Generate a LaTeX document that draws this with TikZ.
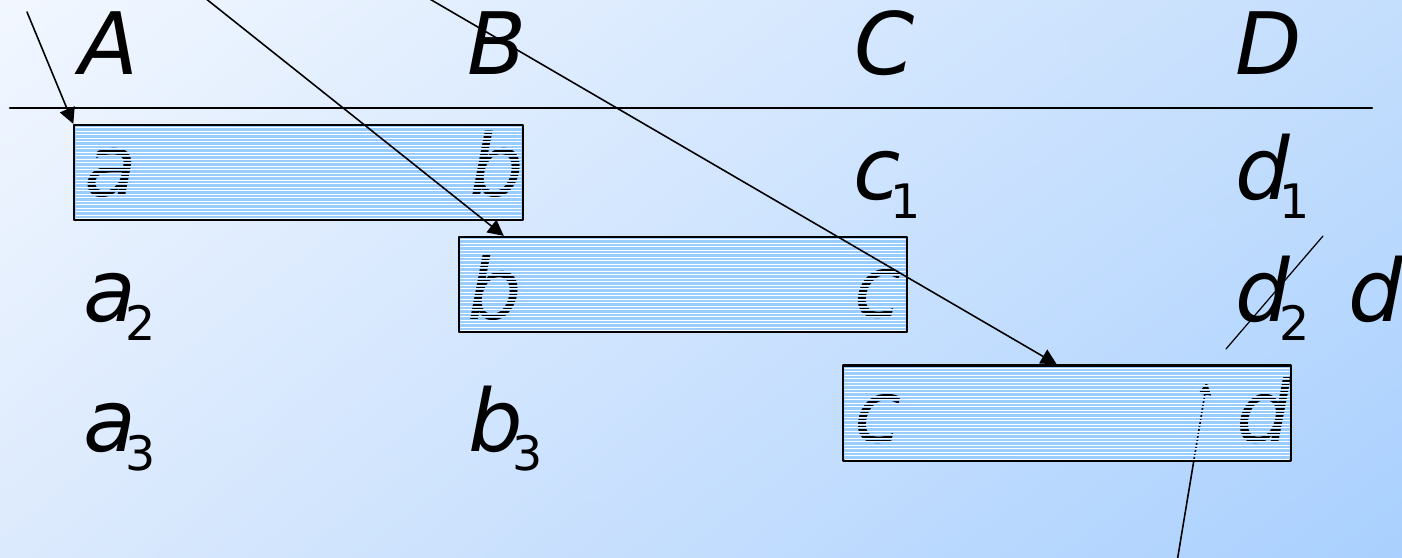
\documentclass[tikz,border=0pt]{standalone}
\usepackage{fontspec}
\setmainfont{DejaVu Sans}
\usetikzlibrary{arrows.meta, calc, shadings}
\definecolor{fondoA}{HTML}{F2F7FF}
\definecolor{fondoB}{HTML}{C4DEFD}
\definecolor{fondoC}{HTML}{DCEAFD}
\definecolor{fondoD}{HTML}{A9D0FE}
\definecolor{azulcaja}{HTML}{99CCFF}
\newcommand\subi[2]{#1\kern-3pt\raisebox{-5.2pt}{\fontsize{13.5pt}{15pt}\selectfont\upshape #2}}

\begin{document}
\begin{tikzpicture}[x=0.01cm, y=-0.01cm, line cap=round, line join=round,
    letra/.style={font=\fontsize{24.5pt}{28pt}\selectfont\itshape, inner sep=0pt, anchor=base west},
    tramo/.style={draw=black, line width=0.6pt, fill=azulcaja, minimum width=4.48cm, minimum height=0.95cm, inner sep=0pt},
    flecha/.style={line width=0.45pt, -{Triangle[length=4.5pt, width=4.5pt]}}]
      % Fondo
      \shade[upper left=fondoA, upper right=fondoB, lower left=fondoC, lower right=fondoD] (0,0) rectangle (1402,558);
      \useasboundingbox (0,0) rectangle (1402,558);

      % Encabezados
      \node[letra] (A) at (79,75) {A};
      \node[letra] (B) at (467,75) {B};
      \node[letra] (C) at (854,75) {C};
      \node[letra] (D) at (1235,75) {D};
      \draw[line width=0.6pt] (10,108) -- (1372,108);

      % Tramos
      \node[tramo] (ab) at (298.5,172.5) {};
      \node[tramo] (bc) at (683,284.5) {};
      \node[tramo] (cd) at (1067,413) {};

      \node[letra] (ta) at (84,197) {a};
      \node[letra] (tb) at (469,197) {b};
      \node[letra] (tb2) at (467,320) {b};
      \node[letra] (tc) at (854,318) {c};
      \node[letra] (tc2) at (854,443) {c};
      \node[letra] (td) at (1236,443) {d};

      % Valores sueltos
      \node[letra] (c1) at (853,200) {\subi{c}{1}};
      \node[letra] (d1) at (1235,200) {\subi{d}{1}};
      \node[letra] (a2) at (83,322) {\subi{a}{2}};
      \node[letra] (d2) at (1235,322) {\subi{d}{2}};
      \node[letra] (dn) at (1348,322) {d};
      \node[letra] (a3) at (83,452) {\subi{a}{3}};
      \node[letra] (b3) at (468,452) {\subi{b}{3}};

      % Flecha bajo la trama
      \coordinate (s4) at (1177,562);
      \draw[line width=0.45pt, -{Triangle[length=3.5pt, width=3.5pt]}] (s4) -- ($(cd.north west)+(365,18)$);

      % Trama de rayas
      \foreach \b in {ab,bc,cd}{
        \begin{scope}
          \clip ($(\b.south west)+(2.5,-2.5)$) rectangle ($(\b.north east)+(-2.5,2.5)$);
          \foreach \k in {0,...,27}{
            \draw[white, line width=0.25pt] ($(\b.north west)+(0,3.5*\k+0.4)$) -- ++(448,0);
            \draw[azulcaja, line width=0.3pt] ($(\b.north west)+(0,3.5*\k+1.4)$) -- ++(448,0);
          }
        \end{scope}
      }

      % Flechas
      \coordinate (s1) at (27,12);
      \coordinate (s2) at (205,-2);
      \coordinate (s3) at (428,-2);
      \draw[flecha] (s1) -- (ab.north west);
      \draw[flecha] (s2) -- ($(bc.north west)+(46,0)$);
      \draw[flecha] (s3) -- ($(cd.north west)+(215,0)$);

      % Tachado
      \draw[line width=0.35pt] (1226,349) -- (1323,236);
    \end{tikzpicture}
\end{document}
